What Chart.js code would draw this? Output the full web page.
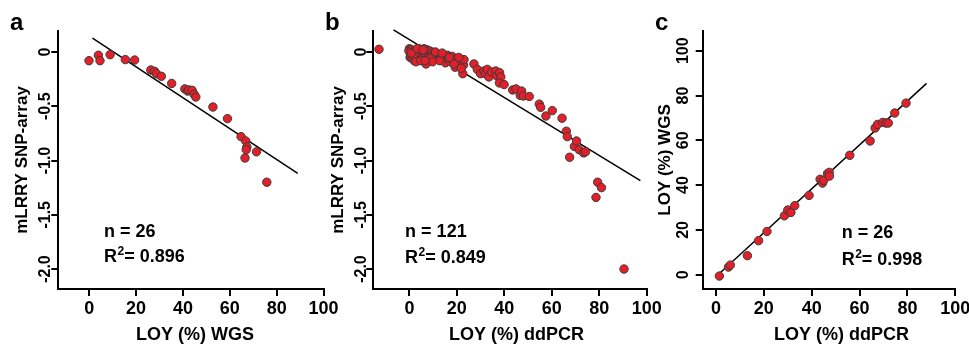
<!DOCTYPE html>
<html>
<head>
<meta charset="UTF-8">
<title>LOY vs mLRRY</title>
<script src="https://cdn.jsdelivr.net/npm/chart.js"></script>
<style>
  body { margin: 0; background: #fff; width: 969px; height: 344px; overflow: hidden; position: relative; }
  canvas { position: absolute; top: 0; }
</style>
</head>
<body>
<canvas id="chartA" width="345" height="344" style="left:0px"></canvas>
<canvas id="chartB" width="355" height="344" style="left:315px"></canvas>
<canvas id="chartC" width="345" height="344" style="left:640px"></canvas>
<script>
// panel a: LOY (%) WGS vs mLRRY SNP-array
const aPoints = [
  [-0.1, -0.08], [3.9, -0.03], [4.6, -0.08], [8.9, -0.025], [15.4, -0.07], [19.4, -0.074],
  [26.3, -0.166], [27.9, -0.178], [28.7, -0.2], [30.8, -0.224], [35.2, -0.29], [40.8, -0.34],
  [42, -0.36], [42.5, -0.35], [43.9, -0.353], [44.8, -0.39], [45.5, -0.415], [52.8, -0.507],
  [59, -0.614], [64.8, -0.78], [66.8, -0.82], [67.3, -0.875], [67, -0.9], [66.5, -0.977],
  [71.4, -0.92], [75.8, -1.2]
];
const aFitX = [1.4, 89];
const aFitY = [0.127, -1.118];

// panel b: LOY (%) ddPCR vs mLRRY SNP-array
const bPoints = [
  [0, 0.03], [0.2, 0.02], [-0.2, 0.01], [0.3, -0.05], [0.5, -0.03], [1, 0.02], [1.2, -0.06], [1.5, 0], [2, -0.08], [2.2, 0.01],
  [2.5, -0.04], [3, 0.02], [3, -0.02], [3.5, 0], [3.8, -0.05], [4, 0.03], [4.2, -0.02], [4.5, 0.01], [5, -0.03], [5.2, 0.02],
  [5.5, -0.06], [6, 0], [6.2, 0.03], [6.5, -0.04], [6.8, 0.01], [7, -0.11], [7.2, -0.02], [7.5, 0.02], [7.8, -0.07], [8, 0],
  [8.3, -0.03], [8.5, 0.01], [9, -0.05], [9.2, -0.02], [9.5, 0], [10, -0.04], [10.3, -0.01], [10.8, -0.03], [11.2, -0.05], [11.5, -0.02],
  [12, -0.04], [12.5, -0.06], [13, -0.03], [13.5, -0.05], [14, -0.02], [14.5, -0.07], [15, -0.04], [15.2, -0.1], [15.5, -0.05], [16, -0.03],
  [16.5, -0.07], [17, -0.05], [17.3, -0.09], [17.8, -0.06], [18, -0.04], [18.5, -0.08], [19, -0.07], [19.3, -0.14], [19.8, -0.06], [20, -0.1],
  [20.5, -0.08], [21, -0.12], [21.5, -0.07], [22, -0.09], [22.5, -0.2], [22.8, -0.12], [23, -0.07], [1.8, -0.03], [2.8, -0.09], [0.8, -0.01],
  [3.3, 0.03], [5.8, 0.02], [4.8, -0.08], [8.8, -0.06], [9.8, -0.09], [11, 0], [12.8, -0.08], [13.8, -0.01], [16.8, -0.05], [18.8, -0.11],
  [20.8, -0.05], [21.8, -0.15], [6.6, -0.08],
  [-12.8, 0.025], [27.2, -0.11], [28.6, -0.16], [30, -0.2], [31.4, -0.175], [32.1, -0.2], [32.8, -0.16], [33.5, -0.23],
  [34.7, -0.185], [36.4, -0.175], [36.8, -0.22], [38, -0.19], [38.5, -0.23], [37.9, -0.285], [39.9, -0.3], [43.5, -0.35],
  [44.9, -0.34], [46.7, -0.4], [47.3, -0.36], [48, -0.405], [50.5, -0.41], [54.7, -0.48], [55.3, -0.51], [57.5, -0.59],
  [60.2, -0.54], [64.3, -0.61], [66.1, -0.73], [66.5, -0.78], [67.5, -0.97], [69.5, -0.87], [70.4, -0.82], [71.5, -0.9],
  [73.4, -0.93], [74.2, -0.92], [79.3, -1.2], [80.9, -1.25], [78.6, -1.34], [90.4, -2.0]
];
const bFitX = [-6.7, 97.3];
const bFitY = [0.204, -1.185];

// panel c: LOY (%) ddPCR vs LOY (%) WGS
const cPoints = [
  [1.4, -0.6], [5.2, 3.4], [6, 4.3], [13.1, 8.5], [17.8, 15.2], [21.3, 19.3], [28.6, 26.3],
  [30, 28.9], [31.3, 27.8], [32.9, 30.8], [38.9, 35.4], [43.5, 42.6], [44.5, 40.9], [45, 42.1],
  [46.6, 45.1], [47.3, 45.7], [47.4, 44], [55.9, 53.3], [64.4, 59.7], [66.5, 65.5], [67.5, 67.1],
  [69.7, 68], [71, 67.7], [72, 67.7], [74.7, 72.2], [79.4, 76.6]
];
const cFitX = [0.3, 88];
const cFitY = [-0.6, 85.4];

// ticks
const xTicks = [0, 20, 40, 60, 80, 100];
const lrrTicks = [0, -0.5, -1, -1.5, -2];
const lrrTickLabels = ['0', '-0.5', '-1.0', '-1.5', '-2.0'];
const loyTicks = [0, 20, 40, 60, 80, 100];
const loyTickLabels = ['0', '20', '40', '60', '80', '100'];

const FONT = '"Liberation Sans", Arial, sans-serif';
const RED = '#E3202A';

// texts drawn by hand: rotated y labels, titles, annotations
function textPlugin(t) {
  return {
    id: 'panelText',
    afterDraw(chart) {
      const ctx = chart.ctx;
      const ca = chart.chartArea;
      const x = chart.scales.x, y = chart.scales.y;
      ctx.save();
      ctx.fillStyle = '#000';

      // y tick labels, rotated
      ctx.font = 'bold 16px ' + FONT;
      ctx.textAlign = 'center';
      ctx.textBaseline = 'alphabetic';
      t.yTicks.forEach((v, i) => {
        const py = y.getPixelForValue(v);
        ctx.save();
        ctx.translate(ca.left - t.yTickGap + 5.7, py);
        ctx.rotate(-Math.PI / 2);
        ctx.fillText(t.yLabels[i], 0, 0);
        ctx.restore();
      });

      // y title
      ctx.font = 'bold 17px ' + FONT;
      ctx.save();
      ctx.translate(ca.left - t.yTitleGap + 6, (ca.top + ca.bottom) / 2);
      ctx.rotate(-Math.PI / 2);
      ctx.fillText(t.yTitle, 0, 0);
      ctx.restore();

      // x title
      ctx.font = 'bold 18px ' + FONT;
      ctx.fillText(t.xTitle, (ca.left + ca.right) / 2 + t.xTitleShift, 340);

      // panel letter
      ctx.font = 'bold 24px ' + FONT;
      ctx.textAlign = 'left';
      ctx.fillText(t.letter, t.letterX, 30);

      // n and R2
      ctx.font = 'bold 18px ' + FONT;
      const ax = x.getPixelForValue(t.annX);
      ctx.fillText('n = ' + t.n, ax, y.getPixelForValue(t.annY1));
      const by = y.getPixelForValue(t.annY2);
      ctx.fillText('R', ax, by);
      let w = ctx.measureText('R').width;
      ctx.font = 'bold 12px ' + FONT;
      ctx.fillText('2', ax + w + 0.5, by - 7);
      w += ctx.measureText('2').width + 0.5;
      ctx.font = 'bold 18px ' + FONT;
      ctx.fillText('= ' + t.r2, ax + w, by);

      ctx.restore();
    }
  };
}

function makePanel(canvasId, p) {
  const ctx = document.getElementById(canvasId).getContext('2d');
  const axisStyle = {
    grid: { display: true, drawOnChartArea: false, drawTicks: true, tickLength: 7, color: '#000', lineWidth: 2 },
    border: { display: true, color: '#000', width: 2 }
  };
  return new Chart(ctx, {
    type: 'scatter',
    data: {
      datasets: [
        {
          data: p.points.map(d => ({ x: d[0], y: d[1] })),
          backgroundColor: RED,
          borderColor: '#3a3a3a',
          borderWidth: 1,
          pointRadius: 4.2,
          pointHoverRadius: 4.2
        },
        {
          type: 'line',
          data: p.fitX.map((v, i) => ({ x: v, y: p.fitY[i] })),
          borderColor: '#000',
          borderWidth: 1.5,
          pointRadius: 0,
          fill: false,
          clip: false
        }
      ]
    },
    options: {
      responsive: false,
      devicePixelRatio: 1,
      animation: false,
      events: [],
      layout: { padding: { top: 31, right: p.padRight, left: 0, bottom: 0 } },
      plugins: { legend: { display: false }, tooltip: { enabled: false } },
      scales: {
        x: {
          type: 'linear',
          min: p.xMin,
          max: 100,
          afterBuildTicks: s => { s.ticks = xTicks.map(v => ({ value: v })); },
          afterFit: s => { s.height = 344 - 289; },
          grid: axisStyle.grid,
          border: axisStyle.border,
          ticks: { color: '#000', font: { family: FONT, size: 18, weight: 'bold' }, padding: 2, maxRotation: 0, autoSkip: false }
        },
        y: {
          type: 'linear',
          min: p.yMin,
          max: p.yMax,
          afterBuildTicks: s => { s.ticks = p.text.yTicks.map(v => ({ value: v })); },
          afterFit: s => { s.width = p.axisLeft; },
          grid: axisStyle.grid,
          border: axisStyle.border,
          ticks: { display: false }
        }
      }
    },
    plugins: [textPlugin(p.text)]
  });
}

makePanel('chartA', {
  points: aPoints, fitX: aFitX, fitY: aFitY,
  xMin: -13.2, yMin: -2.184, yMax: 0.1935,
  axisLeft: 58.3, padRight: 21.5,
  text: {
    letter: 'a', letterX: 10,
    yTicks: lrrTicks, yLabels: lrrTickLabels, yTickGap: 14,
    yTitle: 'mLRRY SNP-array', yTitleGap: 37,
    xTitle: 'LOY (%) WGS', xTitleShift: 4,
    n: '26', r2: '0.896', annX: 6.3, annY1: -1.705, annY2: -1.935
  }
});

makePanel('chartB', {
  points: bPoints, fitX: bFitX, fitY: bFitY,
  xMin: -15.2, yMin: -2.184, yMax: 0.1935,
  axisLeft: 58.3, padRight: 23.2,
  text: {
    letter: 'b', letterX: 10,
    yTicks: lrrTicks, yLabels: lrrTickLabels, yTickGap: 13.5,
    yTitle: 'mLRRY SNP-array', yTitleGap: 36.6,
    xTitle: 'LOY (%) ddPCR', xTitleShift: 6.5,
    n: '121', r2: '0.849', annX: -1.8, annY1: -1.702, annY2: -1.945
  }
});

makePanel('chartC', {
  points: cPoints, fitX: cFitX, fitY: cFitY,
  xMin: -5.56, yMin: -6.38, yMax: 108.8,
  axisLeft: 62.7, padRight: 29.7,
  text: {
    letter: 'c', letterX: 15,
    yTicks: loyTicks, yLabels: loyTickLabels, yTickGap: 20,
    yTitle: 'LOY (%) WGS', yTitleGap: 38.7,
    xTitle: 'LOY (%) ddPCR', xTitleShift: 12.5,
    n: '26', r2: '0.998', annX: 52.5, annY1: 16.25, annY2: 4.33
  }
});
</script>
</body>
</html>
